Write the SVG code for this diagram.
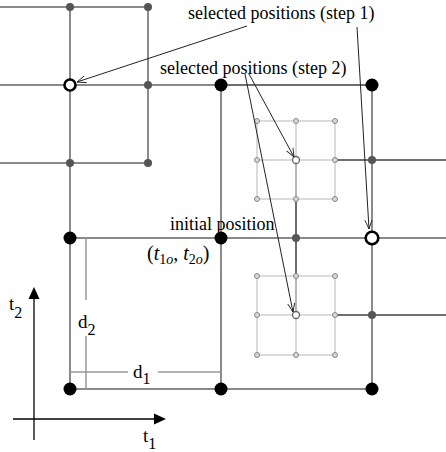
<svg xmlns="http://www.w3.org/2000/svg" width="446" height="452" viewBox="0 0 446 452">
<style>
.g{stroke:#8a8a8a;stroke-width:2;fill:none}
.gd{stroke:#6e6e6e;stroke-width:2;fill:none}
.gl{stroke:#cfcfcf;stroke-width:1.5;fill:none}
.dim{stroke:#9a9a9a;stroke-width:1.5;fill:none}
.big{fill:#000}
.mid{fill:#555}
.sm{fill:#d8d8d8;stroke:#888;stroke-width:1}
.open{fill:#fff;stroke:#000;stroke-width:2.6}
.opens{fill:#fff;stroke:#666;stroke-width:1.3}
.arr{stroke:#222;stroke-width:1;fill:none;marker-end:url(#v)}
.ax{stroke:#000;stroke-width:1.3;fill:none}
text{font-family:"Liberation Serif","Times New Roman",serif;fill:#000}
.lbl{font-size:18px}
.math{font-size:20px}
.m{font-size:19px}
</style>
<defs>
<marker id="v" viewBox="0 0 10 10" refX="10" refY="5" markerWidth="9" markerHeight="9" markerUnits="userSpaceOnUse" orient="auto">
<path d="M0,1 L10,5 L0,9" fill="none" stroke="#222" stroke-width="1"/>
</marker>
</defs>

<g id="grid">
<path class="g" d="M0,7H148M0,163H148M148,7V163"/>
<path class="g" d="M70,7V389"/>
<path class="g" d="M0,85H221"/>
<path class="gd" d="M221,85H372"/>
<path class="g" d="M221,85V389M372,85V389M70,238H446M70,389H372"/>
<path class="gd" d="M335,160H446M335,315H446M296,160V315"/>
<path class="gl" d="M257,121H335V199H257ZM257,160H335M296,121V199"/>
<path class="gl" d="M257,276H335V355H257ZM257,315H335M296,276V355"/>
<path class="dim" d="M86,238V300M86,336V389M70,372H128M158,372H221"/>
</g>

<g id="axes">
<path class="ax" d="M34,440V297"/>
<path d="M34,287L28.5,299H39.5Z" fill="#000"/>
<path class="ax" d="M13,419H155"/>
<path d="M166,419L154,413.5V424.5Z" fill="#000"/>
</g>

<g id="dots-big">
<g id="p-221-85"><circle class="big" cx="221" cy="85" r="6.5"/></g>
<g id="p-372-85"><circle class="big" cx="372" cy="85" r="6.5"/></g>
<g id="p-70-238"><circle class="big" cx="70" cy="238" r="6.5"/></g>
<g id="p-221-238"><circle class="big" cx="221" cy="238" r="6.5"/></g>
<g id="p-70-389"><circle class="big" cx="70" cy="389" r="6.5"/></g>
<g id="p-221-389"><circle class="big" cx="221" cy="389" r="6.5"/></g>
<g id="p-372-389"><circle class="big" cx="372" cy="389" r="6.5"/></g>
<g id="sel1-a"><circle class="open" cx="70" cy="85" r="5.5"/></g>
<g id="sel1-b"><circle class="open" cx="372" cy="238" r="6.3"/></g>
</g>

<g id="dots-mid">
<g id="m1"><circle class="mid" cx="70" cy="7" r="4"/></g>
<g id="m2"><circle class="mid" cx="148" cy="7" r="4"/></g>
<g id="m3"><circle class="mid" cx="148" cy="85" r="4"/></g>
<g id="m4"><circle class="mid" cx="70" cy="163" r="4"/></g>
<g id="m5"><circle class="mid" cx="148" cy="163" r="4"/></g>
<g id="m6"><circle class="mid" cx="296" cy="238" r="4"/></g>
<g id="m7"><circle class="mid" cx="372" cy="160" r="4"/></g>
<g id="m8"><circle class="mid" cx="372" cy="315" r="4"/></g>
</g>

<g id="dots-small">
<g id="s1"><circle class="sm" cx="257" cy="121" r="2.5"/><circle class="sm" cx="296" cy="121" r="2.5"/><circle class="sm" cx="335" cy="121" r="2.5"/><circle class="sm" cx="257" cy="160" r="2.5"/><circle class="sm" cx="335" cy="160" r="2.5"/><circle class="sm" cx="257" cy="199" r="2.5"/><circle class="sm" cx="296" cy="199" r="2.5"/><circle class="sm" cx="335" cy="199" r="2.5"/></g>
<g id="s2"><circle class="sm" cx="257" cy="276" r="2.5"/><circle class="sm" cx="296" cy="276" r="2.5"/><circle class="sm" cx="335" cy="276" r="2.5"/><circle class="sm" cx="257" cy="315" r="2.5"/><circle class="sm" cx="335" cy="315" r="2.5"/><circle class="sm" cx="257" cy="355" r="2.5"/><circle class="sm" cx="296" cy="355" r="2.5"/><circle class="sm" cx="335" cy="355" r="2.5"/></g>
<g id="sel2-a"><circle class="opens" cx="296" cy="160" r="3.5"/></g>
<g id="sel2-b"><circle class="opens" cx="296" cy="315" r="3.5"/></g>
</g>

<g id="connectors">
<path class="arr" d="M247,26L77,82"/>
<path class="arr" d="M357,27L369,229"/>
<path class="arr" d="M249,74L294,157"/>
<path class="arr" d="M245,74L293,312"/>
</g>

<g id="labels">
<text class="lbl" x="188" y="19">selected positions (step 1)</text>
<text class="lbl" x="160" y="74">selected positions (step 2)</text>
<text class="lbl" x="170" y="230">initial position</text>
<text class="math" x="147" y="260">(<tspan font-style="italic">t</tspan><tspan font-size="14" dy="4">1<tspan font-style="italic">o</tspan></tspan><tspan dy="-4">, </tspan><tspan font-style="italic">t</tspan><tspan font-size="14" dy="4">2<tspan font-style="italic">o</tspan></tspan><tspan dy="-4">)</tspan></text>
<text class="m" x="9" y="310">t<tspan font-size="16" dy="8">2</tspan></text>
<text class="m" x="78" y="328">d<tspan font-size="16" dy="7">2</tspan></text>
<text class="m" x="133" y="378">d<tspan font-size="16" dy="6">1</tspan></text>
<text class="m" x="143" y="442">t<tspan font-size="16" dy="7">1</tspan></text>
</g>
</svg>
